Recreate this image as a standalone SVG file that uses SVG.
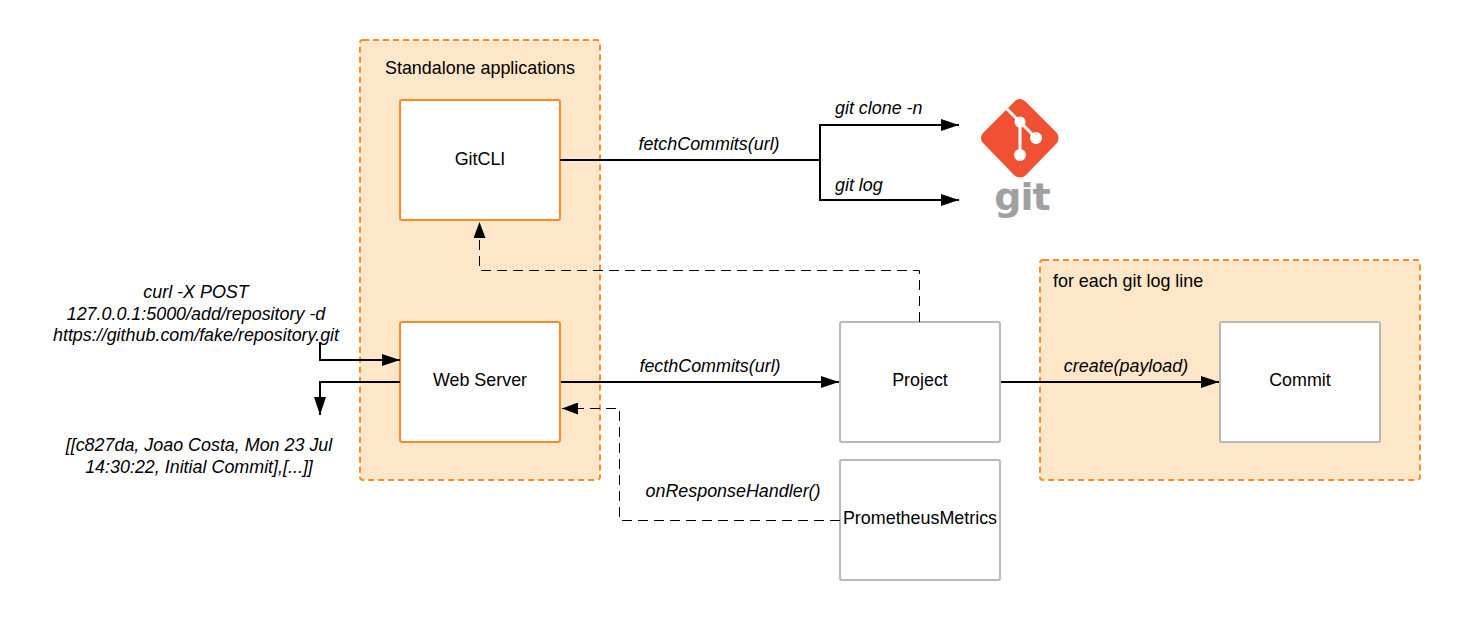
<svg xmlns="http://www.w3.org/2000/svg" width="1460" height="620" viewBox="0 0 1460 620">
<style>
text{font-family:"Liberation Sans",Arial,sans-serif;font-size:17.9px;fill:#000;text-anchor:middle}
.i{font-style:italic}
.l{text-anchor:start}
.group{fill:#fee6c8;stroke:#f68d23;stroke-width:2;stroke-dasharray:6 4}
.o{fill:#fff;stroke:#f68d23;stroke-width:2}
.g{fill:#fff;stroke:#b8b8b8;stroke-width:2}
.s{fill:none;stroke:#000;stroke-width:2}
.d{fill:none;stroke:#000;stroke-width:1;stroke-dasharray:10 6}
</style>
<defs>
<marker id="a" markerUnits="userSpaceOnUse" viewBox="0 0 18 12" refX="18" refY="6" markerWidth="18" markerHeight="12" orient="auto"><path d="M0 0L18 6L0 12z" fill="#000"/></marker>
<marker id="b" markerUnits="userSpaceOnUse" viewBox="0 0 16 12" refX="16" refY="6" markerWidth="16" markerHeight="12" orient="auto"><path d="M0 0L16 6L0 12z" fill="#000"/></marker>
</defs>
<g id="group-standalone"><rect class="group" x="360" y="40" width="240" height="440" rx="3"/><text x="480" y="74">Standalone applications</text></g>
<g id="group-foreach"><rect class="group" x="1040" y="260" width="380" height="220" rx="3"/><text class="l" x="1053" y="287">for each git log line</text></g>
<g id="gitcli"><rect class="o" x="400" y="100" width="160" height="120" rx="2"/><text x="480" y="165">GitCLI</text></g>
<g id="webserver"><rect class="o" x="400" y="322" width="160" height="120" rx="2"/><text x="480" y="386">Web Server</text></g>
<g id="project"><rect class="g" x="840" y="322" width="160" height="120" rx="2"/><text x="920" y="386">Project</text></g>
<g id="commit"><rect class="g" x="1220" y="322" width="160" height="120" rx="2"/><text x="1300" y="386">Commit</text></g>
<g id="prometheus"><rect class="g" x="840" y="460" width="160" height="120" rx="2"/><text x="920" y="524">PrometheusMetrics</text></g>
<g id="git-logo">
<path d="M1020 99Q1023 99 1026 102L1057 133Q1060 138 1057 143L1026 175Q1020 180 1014 175L983 143Q979 138 983 133L1008 108L1014 102Q1017 99 1020 99z" fill="#f05133"/>
<path d="M1007 109L1020 122L1020 155M1020 122L1036 138" fill="none" stroke="#fff" stroke-width="3"/>
<circle cx="1020" cy="122" r="5.5" fill="#fff"/><circle cx="1036" cy="138" r="6" fill="#fff"/><circle cx="1020" cy="155" r="6" fill="#fff"/>
<text x="1022" y="210" style="font-family:'DejaVu Sans',sans-serif;font-weight:700;font-size:38px;fill:#a0a0a0;letter-spacing:-1px">git</text>
</g>
<g id="connectors">
<path class="s" d="M560 160H820V125H959" marker-end="url(#a)"/>
<path class="s" d="M820 160V200H959" marker-end="url(#a)"/>
<path class="d" d="M919.500 322V270.500H479.500V222" marker-end="url(#b)"/>
<path class="s" d="M320 342V360H400" marker-end="url(#a)"/>
<path class="s" d="M400 382H320V415" marker-end="url(#a)"/>
<path class="s" d="M561 382H839" marker-end="url(#a)"/>
<path class="s" d="M1001 382H1219" marker-end="url(#a)"/>
<path class="d" d="M840 520.500H619.500V408.500H562" marker-end="url(#b)"/>
</g>
<g id="labels">
<text class="i" x="709" y="150">fetchCommits(url)</text>
<text class="i l" x="835" y="114">git clone -n</text>
<text class="i l" x="835" y="191">git log</text>
<text class="i" x="710" y="372">fecthCommits(url)</text>
<text class="i" x="1126" y="372">create(payload)</text>
<text class="i" x="733" y="497">onResponseHandler()</text>
<text class="i" x="196" y="298">curl -X POST</text>
<text class="i" x="196" y="320">127.0.0.1:5000/add/repository -d</text>
<text class="i" x="196" y="341">https://github.com/fake/repository.git</text>
<text class="i" x="199" y="451">[[c827da, Joao Costa, Mon 23 Jul</text>
<text class="i" x="199" y="473">14:30:22, Initial Commit],[...]]</text>
</g>
</svg>
